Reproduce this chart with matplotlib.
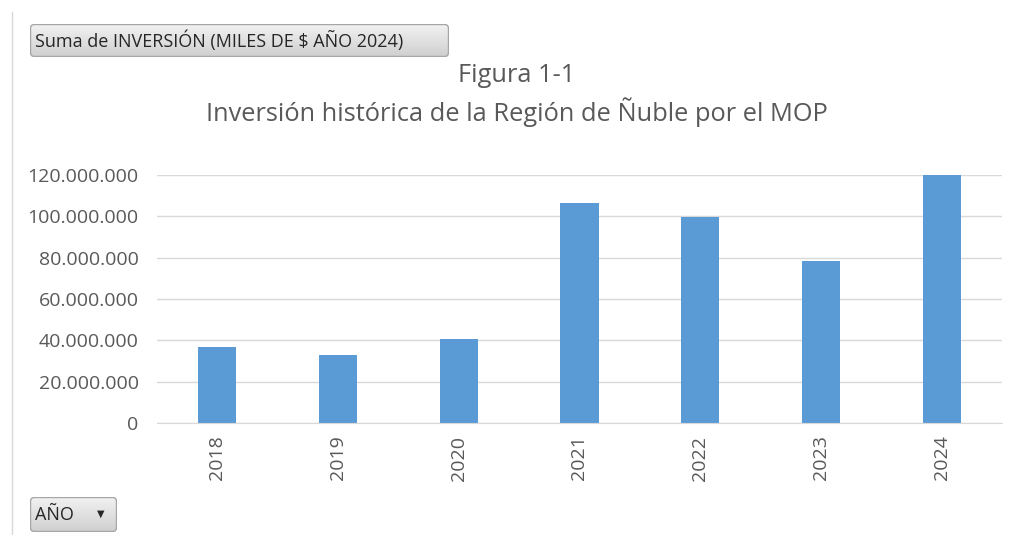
import numpy as np
import matplotlib.pyplot as plt
from matplotlib.patches import FancyBboxPatch
from matplotlib.colors import LinearSegmentedColormap
from matplotlib.ticker import FuncFormatter, MultipleLocator

plt.rcParams["font.family"] = ["Open Sans", "DejaVu Sans"]

# ============================================================
# Data
# ============================================================

years = ["2018", "2019", "2020", "2021", "2022", "2023", "2024"]
inversion = [36800000, 32900000, 40600000, 106400000, 99700000, 78400000, 120300000]

field_label = "Suma de INVERSIÓN (MILES DE $ AÑO 2024)"
axis_field = "AÑO"
title_1 = "Figura 1-1"
title_2 = "Inversión histórica de la Región de Ñuble por el MOP"

bar_color = "#5b9bd5"
text_gray = "#595959"
grid_gray = "#d9d9d9"

W, H = 1013, 535


def miles(v, pos):
    return f"{int(v):,}".replace(",", ".")


def pivot_button(fig, left, top, width, height, label, arrow=False):
    # Excel-like pivot field button with a soft vertical gradient.
    # The little axes uses pixel units so the corner radius stays round.
    bax = fig.add_axes([left / W, 1 - (top + height) / H, width / W, height / H])
    bax.set_xlim(0, width)
    bax.set_ylim(0, height)
    bax.axis("off")
    cmap = LinearSegmentedColormap.from_list("btn", ["#cfcfcf", "#f2f2f2"])
    grad = np.linspace(0, 1, 64).reshape(-1, 1)
    img = bax.imshow(grad, extent=(0, width, 0, height), origin="lower",
                     aspect="auto", cmap=cmap)
    box = FancyBboxPatch((0.5, 0.5), width - 1, height - 1,
                         boxstyle="round,pad=0,rounding_size=4",
                         facecolor="none", edgecolor="#a6a6a6", linewidth=1)
    bax.add_patch(box)
    img.set_clip_path(box)
    bax.text(5, height / 2, label, ha="left", va="center", fontsize=13,
             color="#262626")
    if arrow:
        bax.text(width - 16, height / 2 + 1, "▼", ha="center", va="center",
                 fontsize=7, color="#262626", family="DejaVu Sans")


# ============================================================
# Figure
# ============================================================

fig = plt.figure(figsize=(W / 100, H / 100), dpi=100)
ax = fig.add_axes([0.1546, 0.2093, 0.8349, 0.4636])

x = np.arange(len(years))
ax.bar(x, inversion, width=0.315, color=bar_color, zorder=3)

ax.set_xlim(-0.5, len(years) - 0.5)
ax.set_ylim(0, 120000000)
ax.yaxis.set_major_locator(MultipleLocator(20000000))
ax.yaxis.set_major_formatter(FuncFormatter(miles))
ax.set_xticks(x)
ax.set_xticklabels(years, rotation=90)

ax.grid(axis="y", color=grid_gray, linewidth=1, zorder=0)
for s in ["left", "right", "top"]:
    ax.spines[s].set_visible(False)
ax.spines["bottom"].set_color(grid_gray)
ax.spines["bottom"].set_zorder(4)
ax.tick_params(axis="both", length=0, labelsize=14, colors=text_gray)
ax.tick_params(axis="y", pad=13)
ax.tick_params(axis="x", pad=9)

fig.text(0.510, 1 - 75 / H, title_1, ha="center", va="center",
         fontsize=18.3, color=text_gray)
fig.text(0.510, 1 - 112 / H, title_2, ha="center", va="center",
         fontsize=18.3, color=text_gray)

pivot_button(fig, 30, 24, 419, 33, field_label)
pivot_button(fig, 30, 497, 87, 35, axis_field, arrow=True)

# left frame line
fig.add_artist(plt.Line2D([12 / W, 12 / W], [0, 1 - 12 / H],
                          color="#d9d9d9", linewidth=1))

fig.savefig("out.png", dpi=100)
